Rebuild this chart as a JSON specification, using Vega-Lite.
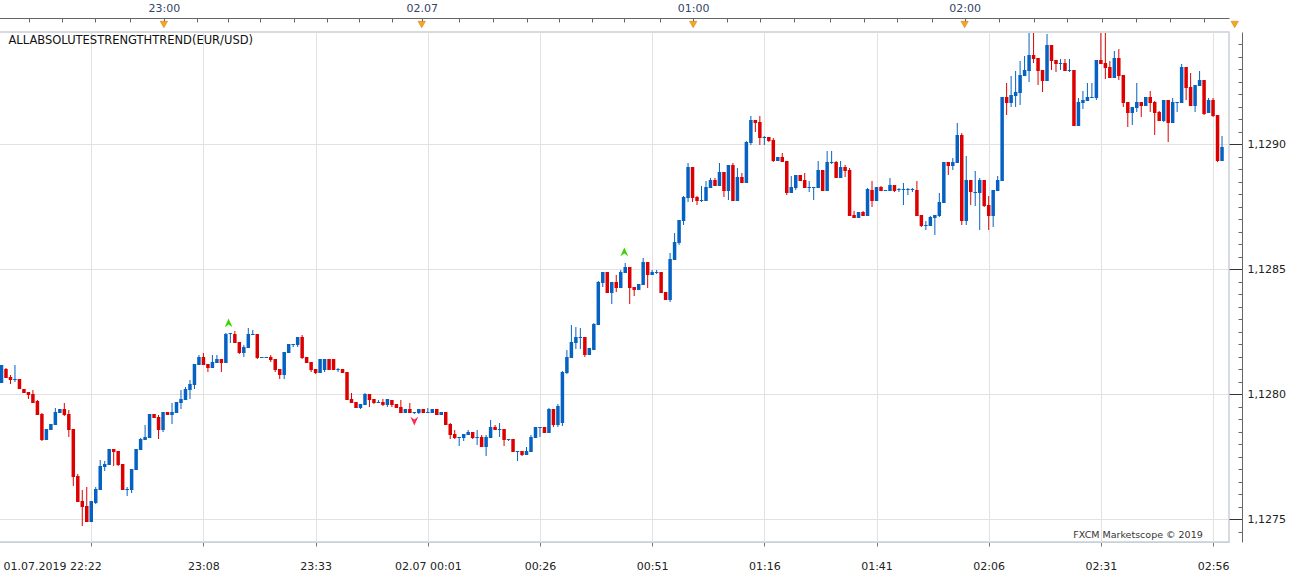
{
"$schema":"https://vega.github.io/schema/vega-lite/v6.json",
"background":"white",
"padding":{"left":-4,"top":2,"right":0,"bottom":0},
"spacing":0,
"config":{"font":"DejaVu Sans","view":{"stroke":null},"axis":{"labelFont":"DejaVu Sans","labelFontSize":11}},
"vconcat":[
{
"width":1232,"height":13,
"data":{"values":[{"i":37},{"i":94},{"i":154},{"i":214},{"i":273.7}]},
"mark":{"type":"point","shape":"triangle-down","filled":true,"size":55,"color":"#f5a623","stroke":"#cc7a00","strokeWidth":0.5,"opacity":1},
"encoding":{
"x":{"field":"i","type":"quantitative","scale":{"domain":[0.11,272.44],"nice":false,"zero":false},
"axis":{"orient":"top","title":null,"grid":false,"tickCount":200,"values":[7.1,14.4,21.8,29.4,37,44.3,51.2,58.2,65.8,73.1,80.2,87.4,94,102.3,109.7,117.3,124.3,131.6,138.6,146.6,154,161.5,168.8,176.2,184.3,191.7,199,206.8,214,221.5,229.3,236.6,244.4,251.9,259.4,267],
"labelExpr":"datum.value==37?'23:00':datum.value==94?'02.07':datum.value==154?'01:00':datum.value==214?'02:00':''",
"domainColor":"#666","tickColor":"#666","tickSize":-4,"labelPadding":9,"labelColor":"#334466","labelOverlap":false,"labelBound":false,"labelFlush":false}}
}
},
{
"width":1232,"height":510,
"view":{"stroke":"#c8d0d8","strokeWidth":1.5},
"data":{"values":[
{"i":0,"o":1.128045,"h":1.128117,"l":1.128045,"c":1.128117},
{"i":1,"o":1.128101,"h":1.128105,"l":1.128065,"c":1.128065},
{"i":2,"o":1.128069,"h":1.128077,"l":1.128041,"c":1.128057},
{"i":3,"o":1.128057,"h":1.128117,"l":1.128049,"c":1.128061},
{"i":4,"o":1.128061,"h":1.128061,"l":1.128021,"c":1.128021},
{"i":5,"o":1.128021,"h":1.128021,"l":1.128005,"c":1.128005},
{"i":6,"o":1.128009,"h":1.128009,"l":1.127981,"c":1.127997},
{"i":7,"o":1.128001,"h":1.128017,"l":1.127965,"c":1.127965},
{"i":8,"o":1.127973,"h":1.127977,"l":1.127917,"c":1.127917},
{"i":9,"o":1.127921,"h":1.127925,"l":1.127813,"c":1.127817},
{"i":10,"o":1.127817,"h":1.127861,"l":1.127817,"c":1.127861},
{"i":11,"o":1.127857,"h":1.127881,"l":1.127857,"c":1.127881},
{"i":12,"o":1.127877,"h":1.127945,"l":1.127877,"c":1.127929},
{"i":13,"o":1.127925,"h":1.127941,"l":1.127925,"c":1.127941},
{"i":14,"o":1.127941,"h":1.127965,"l":1.127913,"c":1.127917},
{"i":15,"o":1.127921,"h":1.127937,"l":1.127829,"c":1.127857},
{"i":16,"o":1.127861,"h":1.127861,"l":1.127633,"c":1.127669},
{"i":17,"o":1.127673,"h":1.127681,"l":1.127569,"c":1.127569},
{"i":18,"o":1.127573,"h":1.127617,"l":1.127473,"c":1.127549},
{"i":19,"o":1.127553,"h":1.127629,"l":1.127489,"c":1.127489},
{"i":20,"o":1.127489,"h":1.127573,"l":1.127489,"c":1.127573},
{"i":21,"o":1.127565,"h":1.127629,"l":1.127561,"c":1.127621},
{"i":22,"o":1.127617,"h":1.127737,"l":1.127617,"c":1.127713},
{"i":23,"o":1.127709,"h":1.127733,"l":1.127693,"c":1.127721},
{"i":24,"o":1.127717,"h":1.127781,"l":1.127717,"c":1.127781},
{"i":25,"o":1.127781,"h":1.127781,"l":1.127713,"c":1.127769},
{"i":26,"o":1.127773,"h":1.127773,"l":1.127713,"c":1.127717},
{"i":27,"o":1.127721,"h":1.127721,"l":1.127617,"c":1.127617},
{"i":28,"o":1.127617,"h":1.127629,"l":1.127593,"c":1.127621},
{"i":29,"o":1.127617,"h":1.127701,"l":1.127605,"c":1.127701},
{"i":30,"o":1.127697,"h":1.127781,"l":1.127697,"c":1.127781},
{"i":31,"o":1.127777,"h":1.127825,"l":1.127777,"c":1.127821},
{"i":32,"o":1.127817,"h":1.127877,"l":1.127817,"c":1.127829},
{"i":33,"o":1.127825,"h":1.127921,"l":1.127825,"c":1.127921},
{"i":34,"o":1.127921,"h":1.127921,"l":1.127905,"c":1.127905},
{"i":35,"o":1.127909,"h":1.127917,"l":1.127821,"c":1.127857},
{"i":36,"o":1.127857,"h":1.127929,"l":1.127849,"c":1.127929},
{"i":37,"o":1.127929,"h":1.127929,"l":1.127917,"c":1.127917},
{"i":38,"o":1.127917,"h":1.127965,"l":1.127881,"c":1.127929},
{"i":39,"o":1.127925,"h":1.127969,"l":1.127925,"c":1.127969},
{"i":40,"o":1.127965,"h":1.128017,"l":1.127941,"c":1.127981},
{"i":41,"o":1.127977,"h":1.128029,"l":1.127977,"c":1.128021},
{"i":42,"o":1.128017,"h":1.128057,"l":1.127981,"c":1.128041},
{"i":43,"o":1.128037,"h":1.128121,"l":1.128021,"c":1.128121},
{"i":44,"o":1.128117,"h":1.128157,"l":1.128117,"c":1.128149},
{"i":45,"o":1.128149,"h":1.128165,"l":1.128117,"c":1.128117},
{"i":46,"o":1.128121,"h":1.128121,"l":1.128089,"c":1.128105},
{"i":47,"o":1.128105,"h":1.128157,"l":1.128105,"c":1.128129},
{"i":48,"o":1.128125,"h":1.128157,"l":1.128125,"c":1.128141},
{"i":49,"o":1.128141,"h":1.128141,"l":1.128089,"c":1.128125},
{"i":50,"o":1.128125,"h":1.128245,"l":1.128125,"c":1.128241},
{"i":51,"o":1.128241,"h":1.128245,"l":1.128205,"c":1.128245},
{"i":52,"o":1.128241,"h":1.128253,"l":1.128205,"c":1.128205},
{"i":53,"o":1.128209,"h":1.128209,"l":1.128161,"c":1.128165},
{"i":54,"o":1.128165,"h":1.128197,"l":1.128149,"c":1.128189},
{"i":55,"o":1.128185,"h":1.128265,"l":1.128185,"c":1.128241},
{"i":56,"o":1.128237,"h":1.128257,"l":1.128237,"c":1.128241},
{"i":57,"o":1.128241,"h":1.128241,"l":1.128141,"c":1.128145},
{"i":58,"o":1.128145,"h":1.128149,"l":1.128145,"c":1.128149},
{"i":59,"o":1.128145,"h":1.128149,"l":1.128145,"c":1.128149},
{"i":60,"o":1.128149,"h":1.128157,"l":1.128129,"c":1.128137},
{"i":61,"o":1.128141,"h":1.128141,"l":1.128089,"c":1.128097},
{"i":62,"o":1.128101,"h":1.128101,"l":1.128061,"c":1.128077},
{"i":63,"o":1.128077,"h":1.128169,"l":1.128061,"c":1.128169},
{"i":64,"o":1.128165,"h":1.128201,"l":1.128165,"c":1.128201},
{"i":65,"o":1.128197,"h":1.128201,"l":1.128189,"c":1.128201},
{"i":66,"o":1.128197,"h":1.128229,"l":1.128189,"c":1.128229},
{"i":67,"o":1.128229,"h":1.128237,"l":1.128141,"c":1.128145},
{"i":68,"o":1.128149,"h":1.128149,"l":1.128125,"c":1.128125},
{"i":69,"o":1.128129,"h":1.128129,"l":1.128089,"c":1.128097},
{"i":70,"o":1.128101,"h":1.128101,"l":1.128081,"c":1.128085},
{"i":71,"o":1.128085,"h":1.128141,"l":1.128085,"c":1.128141},
{"i":72,"o":1.128097,"h":1.128141,"l":1.128089,"c":1.128141},
{"i":73,"o":1.128141,"h":1.128141,"l":1.128097,"c":1.128097},
{"i":74,"o":1.128141,"h":1.128141,"l":1.128097,"c":1.128097},
{"i":75,"o":1.128097,"h":1.128105,"l":1.128089,"c":1.128101},
{"i":76,"o":1.128101,"h":1.128101,"l":1.128085,"c":1.128085},
{"i":77,"o":1.128089,"h":1.128089,"l":1.127977,"c":1.127977},
{"i":78,"o":1.127981,"h":1.128005,"l":1.127965,"c":1.127965},
{"i":79,"o":1.127969,"h":1.127969,"l":1.127945,"c":1.127945},
{"i":80,"o":1.127945,"h":1.127961,"l":1.127941,"c":1.127961},
{"i":81,"o":1.127957,"h":1.128005,"l":1.127957,"c":1.128001},
{"i":82,"o":1.128001,"h":1.128001,"l":1.127949,"c":1.127977},
{"i":83,"o":1.127981,"h":1.127981,"l":1.127961,"c":1.127965},
{"i":84,"o":1.127965,"h":1.127977,"l":1.127965,"c":1.127969},
{"i":85,"o":1.127969,"h":1.127981,"l":1.127953,"c":1.127957},
{"i":86,"o":1.127957,"h":1.127981,"l":1.127949,"c":1.127981},
{"i":87,"o":1.127977,"h":1.127977,"l":1.127949,"c":1.127957},
{"i":88,"o":1.127961,"h":1.127961,"l":1.127945,"c":1.127945},
{"i":89,"o":1.127949,"h":1.127977,"l":1.127925,"c":1.127925},
{"i":90,"o":1.127925,"h":1.127941,"l":1.127925,"c":1.127941},
{"i":91,"o":1.127941,"h":1.127965,"l":1.127925,"c":1.127925},
{"i":92,"o":1.127925,"h":1.127929,"l":1.127921,"c":1.127929},
{"i":93,"o":1.127925,"h":1.127941,"l":1.127921,"c":1.127941},
{"i":94,"o":1.127941,"h":1.127941,"l":1.127925,"c":1.127925},
{"i":95,"o":1.127925,"h":1.127945,"l":1.127925,"c":1.127929},
{"i":96,"o":1.127925,"h":1.127941,"l":1.127925,"c":1.127941},
{"i":97,"o":1.127941,"h":1.127941,"l":1.127917,"c":1.127917},
{"i":98,"o":1.127917,"h":1.127929,"l":1.127917,"c":1.127929},
{"i":99,"o":1.127929,"h":1.127929,"l":1.127877,"c":1.127877},
{"i":100,"o":1.127881,"h":1.127885,"l":1.127821,"c":1.127837},
{"i":101,"o":1.127841,"h":1.127857,"l":1.127821,"c":1.127825},
{"i":102,"o":1.127825,"h":1.127829,"l":1.127793,"c":1.127829},
{"i":103,"o":1.127825,"h":1.127841,"l":1.127813,"c":1.127841},
{"i":104,"o":1.127837,"h":1.127857,"l":1.127837,"c":1.127849},
{"i":105,"o":1.127849,"h":1.127849,"l":1.127821,"c":1.127825},
{"i":106,"o":1.127825,"h":1.127857,"l":1.127797,"c":1.127829},
{"i":107,"o":1.127829,"h":1.127837,"l":1.127789,"c":1.127789},
{"i":108,"o":1.127789,"h":1.127837,"l":1.127753,"c":1.127829},
{"i":109,"o":1.127825,"h":1.127897,"l":1.127825,"c":1.127869},
{"i":110,"o":1.127869,"h":1.127877,"l":1.127857,"c":1.127857},
{"i":111,"o":1.127857,"h":1.127885,"l":1.127829,"c":1.127861},
{"i":112,"o":1.127861,"h":1.127861,"l":1.127793,"c":1.127817},
{"i":113,"o":1.127817,"h":1.127821,"l":1.127813,"c":1.127821},
{"i":114,"o":1.127821,"h":1.127821,"l":1.127769,"c":1.127769},
{"i":115,"o":1.127769,"h":1.127773,"l":1.127733,"c":1.127773},
{"i":116,"o":1.127773,"h":1.127773,"l":1.127753,"c":1.127757},
{"i":117,"o":1.127757,"h":1.127789,"l":1.127757,"c":1.127773},
{"i":118,"o":1.127769,"h":1.127837,"l":1.127769,"c":1.127829},
{"i":119,"o":1.127825,"h":1.127869,"l":1.127825,"c":1.127869},
{"i":120,"o":1.127865,"h":1.127869,"l":1.127829,"c":1.127869},
{"i":121,"o":1.127869,"h":1.127869,"l":1.127845,"c":1.127845},
{"i":122,"o":1.127845,"h":1.127945,"l":1.127845,"c":1.127941},
{"i":123,"o":1.127941,"h":1.127941,"l":1.127869,"c":1.127877},
{"i":124,"o":1.127877,"h":1.127961,"l":1.127869,"c":1.127953},
{"i":125,"o":1.127885,"h":1.128093,"l":1.127873,"c":1.128089},
{"i":126,"o":1.128085,"h":1.128177,"l":1.128081,"c":1.128149},
{"i":127,"o":1.128145,"h":1.128277,"l":1.128145,"c":1.128209},
{"i":128,"o":1.128205,"h":1.128269,"l":1.128181,"c":1.128229},
{"i":129,"o":1.128225,"h":1.128265,"l":1.128181,"c":1.128229},
{"i":130,"o":1.128229,"h":1.128229,"l":1.128149,"c":1.128157},
{"i":131,"o":1.128157,"h":1.128185,"l":1.128157,"c":1.128185},
{"i":132,"o":1.128177,"h":1.128285,"l":1.128177,"c":1.128281},
{"i":133,"o":1.128277,"h":1.128453,"l":1.128277,"c":1.128449},
{"i":134,"o":1.128445,"h":1.128489,"l":1.128429,"c":1.128489},
{"i":135,"o":1.128489,"h":1.128489,"l":1.128405,"c":1.128405},
{"i":136,"o":1.128405,"h":1.128449,"l":1.128361,"c":1.128449},
{"i":137,"o":1.128449,"h":1.128477,"l":1.128409,"c":1.128425},
{"i":138,"o":1.128425,"h":1.128497,"l":1.128425,"c":1.128489},
{"i":139,"o":1.128485,"h":1.128525,"l":1.128485,"c":1.128509},
{"i":140,"o":1.128509,"h":1.128509,"l":1.128361,"c":1.128425},
{"i":141,"o":1.128429,"h":1.128429,"l":1.128393,"c":1.128417},
{"i":142,"o":1.128417,"h":1.128441,"l":1.128417,"c":1.128441},
{"i":143,"o":1.128437,"h":1.128545,"l":1.128437,"c":1.128529},
{"i":144,"o":1.128529,"h":1.128529,"l":1.128425,"c":1.128477},
{"i":145,"o":1.128477,"h":1.128497,"l":1.128477,"c":1.128489},
{"i":146,"o":1.128485,"h":1.128497,"l":1.128481,"c":1.128489},
{"i":147,"o":1.128489,"h":1.128489,"l":1.128405,"c":1.128405},
{"i":148,"o":1.128409,"h":1.128409,"l":1.128377,"c":1.128377},
{"i":149,"o":1.128377,"h":1.128565,"l":1.128369,"c":1.128541},
{"i":150,"o":1.128537,"h":1.128645,"l":1.128537,"c":1.128609},
{"i":151,"o":1.128605,"h":1.128697,"l":1.128597,"c":1.128697},
{"i":152,"o":1.128693,"h":1.128793,"l":1.128677,"c":1.128789},
{"i":153,"o":1.128785,"h":1.128925,"l":1.128769,"c":1.128909},
{"i":154,"o":1.128909,"h":1.128909,"l":1.128769,"c":1.128785},
{"i":155,"o":1.128789,"h":1.128793,"l":1.128757,"c":1.128773},
{"i":156,"o":1.128773,"h":1.128833,"l":1.128769,"c":1.128777},
{"i":157,"o":1.128773,"h":1.128853,"l":1.128773,"c":1.128829},
{"i":158,"o":1.128825,"h":1.128865,"l":1.128825,"c":1.128857},
{"i":159,"o":1.128857,"h":1.128865,"l":1.128833,"c":1.128833},
{"i":160,"o":1.128833,"h":1.128925,"l":1.128833,"c":1.128889},
{"i":161,"o":1.128889,"h":1.128889,"l":1.128789,"c":1.128813},
{"i":162,"o":1.128813,"h":1.128917,"l":1.128777,"c":1.128917},
{"i":163,"o":1.128917,"h":1.128925,"l":1.128773,"c":1.128773},
{"i":164,"o":1.128773,"h":1.128905,"l":1.128773,"c":1.128869},
{"i":165,"o":1.128869,"h":1.128885,"l":1.128845,"c":1.128845},
{"i":166,"o":1.128845,"h":1.129013,"l":1.128845,"c":1.129009},
{"i":167,"o":1.129005,"h":1.129113,"l":1.128997,"c":1.129097},
{"i":168,"o":1.129097,"h":1.129097,"l":1.129049,"c":1.129085},
{"i":169,"o":1.129089,"h":1.129113,"l":1.128997,"c":1.129025},
{"i":170,"o":1.129025,"h":1.129033,"l":1.128997,"c":1.129029},
{"i":171,"o":1.129029,"h":1.129029,"l":1.129009,"c":1.129013},
{"i":172,"o":1.129017,"h":1.129025,"l":1.128929,"c":1.128933},
{"i":173,"o":1.128933,"h":1.128949,"l":1.128933,"c":1.128949},
{"i":174,"o":1.128949,"h":1.128965,"l":1.128929,"c":1.128929},
{"i":175,"o":1.128933,"h":1.128933,"l":1.128797,"c":1.128805},
{"i":176,"o":1.128805,"h":1.128873,"l":1.128805,"c":1.128829},
{"i":177,"o":1.128825,"h":1.128877,"l":1.128817,"c":1.128877},
{"i":178,"o":1.128877,"h":1.128877,"l":1.128853,"c":1.128853},
{"i":179,"o":1.128857,"h":1.128885,"l":1.128825,"c":1.128825},
{"i":180,"o":1.128825,"h":1.128853,"l":1.128809,"c":1.128829},
{"i":181,"o":1.128825,"h":1.128829,"l":1.128777,"c":1.128829},
{"i":182,"o":1.128825,"h":1.128933,"l":1.128825,"c":1.128897},
{"i":183,"o":1.128897,"h":1.128897,"l":1.128813,"c":1.128813},
{"i":184,"o":1.128813,"h":1.128973,"l":1.128813,"c":1.128929},
{"i":185,"o":1.128925,"h":1.128973,"l":1.128921,"c":1.128929},
{"i":186,"o":1.128929,"h":1.128933,"l":1.128865,"c":1.128865},
{"i":187,"o":1.128865,"h":1.128933,"l":1.128865,"c":1.128909},
{"i":188,"o":1.128909,"h":1.128917,"l":1.128869,"c":1.128893},
{"i":189,"o":1.128897,"h":1.128905,"l":1.128713,"c":1.128713},
{"i":190,"o":1.128717,"h":1.128733,"l":1.128705,"c":1.128705},
{"i":191,"o":1.128705,"h":1.128729,"l":1.128705,"c":1.128729},
{"i":192,"o":1.128729,"h":1.128733,"l":1.128713,"c":1.128713},
{"i":193,"o":1.128713,"h":1.128825,"l":1.128713,"c":1.128821},
{"i":194,"o":1.128817,"h":1.128853,"l":1.128749,"c":1.128773},
{"i":195,"o":1.128773,"h":1.128829,"l":1.128773,"c":1.128829},
{"i":196,"o":1.128829,"h":1.128833,"l":1.128813,"c":1.128813},
{"i":197,"o":1.128813,"h":1.128817,"l":1.128813,"c":1.128817},
{"i":198,"o":1.128813,"h":1.128865,"l":1.128813,"c":1.128837},
{"i":199,"o":1.128837,"h":1.128837,"l":1.128809,"c":1.128813},
{"i":200,"o":1.128817,"h":1.128825,"l":1.128809,"c":1.128821},
{"i":201,"o":1.128817,"h":1.128845,"l":1.128757,"c":1.128821},
{"i":202,"o":1.128817,"h":1.128825,"l":1.128797,"c":1.128821},
{"i":203,"o":1.128817,"h":1.128825,"l":1.128809,"c":1.128821},
{"i":204,"o":1.128817,"h":1.128853,"l":1.128713,"c":1.128713},
{"i":205,"o":1.128717,"h":1.128717,"l":1.128669,"c":1.128673},
{"i":206,"o":1.128673,"h":1.128693,"l":1.128657,"c":1.128677},
{"i":207,"o":1.128673,"h":1.128713,"l":1.128673,"c":1.128709},
{"i":208,"o":1.128705,"h":1.128717,"l":1.128637,"c":1.128717},
{"i":209,"o":1.128713,"h":1.128805,"l":1.128709,"c":1.128769},
{"i":210,"o":1.128765,"h":1.128929,"l":1.128765,"c":1.128929},
{"i":211,"o":1.128929,"h":1.128929,"l":1.128877,"c":1.128913},
{"i":212,"o":1.128913,"h":1.128945,"l":1.128897,"c":1.128929},
{"i":213,"o":1.128925,"h":1.129085,"l":1.128925,"c":1.129037},
{"i":214,"o":1.129037,"h":1.129045,"l":1.128677,"c":1.128693},
{"i":215,"o":1.128693,"h":1.128953,"l":1.128677,"c":1.128857},
{"i":216,"o":1.128857,"h":1.128857,"l":1.128757,"c":1.128809},
{"i":217,"o":1.128805,"h":1.128893,"l":1.128753,"c":1.128809},
{"i":218,"o":1.128805,"h":1.128865,"l":1.128657,"c":1.128857},
{"i":219,"o":1.128857,"h":1.128857,"l":1.128749,"c":1.128753},
{"i":220,"o":1.128757,"h":1.128793,"l":1.128657,"c":1.128713},
{"i":221,"o":1.128713,"h":1.128817,"l":1.128669,"c":1.128817},
{"i":222,"o":1.128813,"h":1.128873,"l":1.128813,"c":1.128857},
{"i":223,"o":1.128853,"h":1.129189,"l":1.128853,"c":1.129189},
{"i":224,"o":1.129189,"h":1.129245,"l":1.129117,"c":1.129165},
{"i":225,"o":1.129165,"h":1.129273,"l":1.129149,"c":1.129197},
{"i":226,"o":1.129193,"h":1.129293,"l":1.129149,"c":1.129209},
{"i":227,"o":1.129205,"h":1.129333,"l":1.129157,"c":1.129277},
{"i":228,"o":1.129273,"h":1.129353,"l":1.129273,"c":1.129297},
{"i":229,"o":1.129293,"h":1.129445,"l":1.129249,"c":1.129357},
{"i":230,"o":1.129357,"h":1.129445,"l":1.129325,"c":1.129341},
{"i":231,"o":1.129345,"h":1.129345,"l":1.129237,"c":1.129293},
{"i":232,"o":1.129297,"h":1.129297,"l":1.129209,"c":1.129253},
{"i":233,"o":1.129253,"h":1.129441,"l":1.129253,"c":1.129397},
{"i":234,"o":1.129397,"h":1.129397,"l":1.129297,"c":1.129333},
{"i":235,"o":1.129337,"h":1.129337,"l":1.129289,"c":1.129321},
{"i":236,"o":1.129321,"h":1.129341,"l":1.129297,"c":1.129325},
{"i":237,"o":1.129325,"h":1.129341,"l":1.129293,"c":1.129293},
{"i":238,"o":1.129293,"h":1.129341,"l":1.129289,"c":1.129297},
{"i":239,"o":1.129297,"h":1.129297,"l":1.129073,"c":1.129073},
{"i":240,"o":1.129073,"h":1.129185,"l":1.129073,"c":1.129169},
{"i":241,"o":1.129165,"h":1.129213,"l":1.129141,"c":1.129177},
{"i":242,"o":1.129173,"h":1.129245,"l":1.129173,"c":1.129189},
{"i":243,"o":1.129185,"h":1.129245,"l":1.129185,"c":1.129189},
{"i":244,"o":1.129185,"h":1.129337,"l":1.129177,"c":1.129337},
{"i":245,"o":1.129337,"h":1.129445,"l":1.129321,"c":1.129321},
{"i":246,"o":1.129325,"h":1.129445,"l":1.129261,"c":1.129305},
{"i":247,"o":1.129309,"h":1.129333,"l":1.129265,"c":1.129265},
{"i":248,"o":1.129265,"h":1.129373,"l":1.129265,"c":1.129345},
{"i":249,"o":1.129345,"h":1.129381,"l":1.129257,"c":1.129273},
{"i":250,"o":1.129277,"h":1.129277,"l":1.129149,"c":1.129165},
{"i":251,"o":1.129169,"h":1.129169,"l":1.129069,"c":1.129125},
{"i":252,"o":1.129125,"h":1.129149,"l":1.129077,"c":1.129149},
{"i":253,"o":1.129145,"h":1.129245,"l":1.129129,"c":1.129169},
{"i":254,"o":1.129169,"h":1.129169,"l":1.129109,"c":1.129153},
{"i":255,"o":1.129153,"h":1.129189,"l":1.129153,"c":1.129189},
{"i":256,"o":1.129189,"h":1.129213,"l":1.129129,"c":1.129165},
{"i":257,"o":1.129169,"h":1.129173,"l":1.129037,"c":1.129125},
{"i":258,"o":1.129129,"h":1.129133,"l":1.129093,"c":1.129093},
{"i":259,"o":1.129093,"h":1.129177,"l":1.129089,"c":1.129177},
{"i":260,"o":1.129177,"h":1.129177,"l":1.129009,"c":1.129085},
{"i":261,"o":1.129085,"h":1.129185,"l":1.129085,"c":1.129169},
{"i":262,"o":1.129165,"h":1.129169,"l":1.129129,"c":1.129169},
{"i":263,"o":1.129165,"h":1.129321,"l":1.129165,"c":1.129309},
{"i":264,"o":1.129309,"h":1.129309,"l":1.129177,"c":1.129225},
{"i":265,"o":1.129229,"h":1.129285,"l":1.129153,"c":1.129153},
{"i":266,"o":1.129153,"h":1.129237,"l":1.129129,"c":1.129237},
{"i":267,"o":1.129233,"h":1.129293,"l":1.129233,"c":1.129257},
{"i":268,"o":1.129257,"h":1.129257,"l":1.129117,"c":1.129121},
{"i":269,"o":1.129125,"h":1.129185,"l":1.129125,"c":1.129177},
{"i":270,"o":1.129177,"h":1.129185,"l":1.129109,"c":1.129113},
{"i":271,"o":1.129117,"h":1.129117,"l":1.128929,"c":1.128933},
{"i":272,"o":1.128933,"h":1.129033,"l":1.128933,"c":1.128989}
]},
"layer":[
{"mark":{"type":"rule","strokeWidth":1,"clip":true},
"encoding":{
"x":{"field":"i","type":"quantitative","scale":{"domain":[0.11,272.44],"nice":false,"zero":false},
"axis":{"orient":"bottom","title":null,"tickCount":200,"values":[20,45,70,95,120,145,170,195,220,245,270],
"labelExpr":"['01.07.2019 22:22','23:08','23:33','02.07 00:01','00:26','00:51','01:16','01:41','02:06','02:31','02:56'][round((datum.value-20)/25)]",
"labelAlign":{"condition":{"test":"datum.value==20","value":"right"},"value":"center"},
"labelOffset":{"condition":{"test":"datum.value==20","value":10},"value":0},
"grid":true,"gridColor":"#e2e2e2","gridWidth":1,"domainColor":"#c8d0d8","tickColor":"#777","tickSize":4,"labelPadding":14,"labelColor":"#222","labelOverlap":false,"labelBound":false,"labelFlush":false}},
"y":{"field":"l","type":"quantitative","scale":{"domain":[1.127409,1.129449],"nice":false,"zero":false},
"axis":{"orient":"right","title":null,"offset":13,"tickCount":200,
"values":[1.12745,1.1275,1.12755,1.1276,1.12765,1.1277,1.12775,1.1278,1.12785,1.1279,1.12795,1.128,1.12805,1.1281,1.12815,1.1282,1.12825,1.1283,1.12835,1.1284,1.12845,1.1285,1.12855,1.1286,1.12865,1.1287,1.12875,1.1288,1.12885,1.1289,1.12895,1.129,1.12905,1.1291,1.12915,1.1292,1.12925,1.1293,1.12935,1.1294,1.12945],
"labelExpr":"abs(datum.value*2000-round(datum.value*2000))<0.01 ? replace(format(datum.value,'.4f'),'.',',') : ''",
"tickSize":{"condition":{"test":"abs(datum.value*2000-round(datum.value*2000))<0.01","value":-13},"value":-4},
"tickColor":{"condition":{"test":"abs(datum.value*2000-round(datum.value*2000))<0.01","value":"#333"},"value":"#666"},
"grid":true,"gridColor":"#e2e2e2",
"gridOpacity":{"condition":{"test":"abs(datum.value*2000-round(datum.value*2000))<0.01","value":1},"value":0},
"domainColor":"#666","labelPadding":18,"labelColor":"#222","labelOverlap":false,"labelBound":false,"labelFlush":false,"labelBaseline":"middle"}},
"y2":{"field":"h"},
"color":{"condition":{"test":"datum.c < datum.o","value":"#dd0000"},"value":"#0662c2"}}},
{"mark":{"type":"bar","size":3.5,"clip":true},
"encoding":{"x":{"field":"i","type":"quantitative"},"y":{"field":"o","type":"quantitative"},"y2":{"field":"c"},
"color":{"condition":{"test":"datum.c < datum.o","value":"#dd0000"},"value":"#0662c2"}}},
{"data":{"values":[{"i":50.6,"p":1.128285,"s":"up"},{"i":138.8,"p":1.128569,"s":"up"},{"i":92,"p":1.127893,"s":"down"}]},
"mark":{"type":"point","filled":true,"size":85,"opacity":1},
"encoding":{"x":{"field":"i","type":"quantitative"},"y":{"field":"p","type":"quantitative"},
"shape":{"field":"s","type":"nominal","scale":{"domain":["up","down"],"range":["M0,-1L0.85,0.9L0,0.35L-0.85,0.9Z","M0,1L0.85,-0.9L0,-0.35L-0.85,-0.9Z"]},"legend":null},
"color":{"field":"s","type":"nominal","scale":{"domain":["up","down"],"range":["#3cd400","#ff2a4a"]},"legend":null}}},
{"data":{"values":[{"t":"ALLABSOLUTESTRENGTHTREND(EUR/USD)"}]},
"mark":{"type":"text","align":"left","baseline":"middle","fontSize":11.5,"font":"DejaVu Sans","color":"#111"},
"encoding":{"text":{"field":"t"},"x":{"datum":1.55,"type":"quantitative"},"y":{"datum":1.129413,"type":"quantitative"}}},
{"data":{"values":[{"t":"FXCM Marketscope © 2019"}]},
"mark":{"type":"text","align":"right","baseline":"middle","fontSize":9.5,"font":"DejaVu Sans","color":"#333"},
"encoding":{"text":{"field":"t"},"x":{"datum":267.7,"type":"quantitative"},"y":{"datum":1.127437,"type":"quantitative"}}}
]
}
]
}
